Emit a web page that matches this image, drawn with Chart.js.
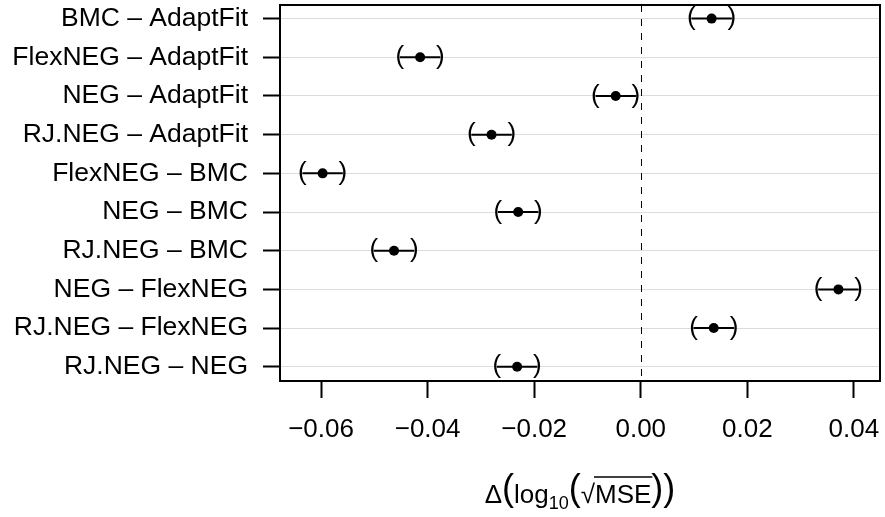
<!DOCTYPE html>
<html>
<head>
<meta charset="utf-8">
<script src="https://cdn.jsdelivr.net/npm/chart.js@4.4.0/dist/chart.umd.min.js"></script>
<style>
  html, body { margin: 0; padding: 0; background: #fff; }
  #wrap { width: 885px; height: 517px; }
</style>
</head>
<body>
<div id="wrap"><canvas id="ciChart" width="885" height="517"></canvas></div>
<script>
// Pairwise differences with their confidence limits
var pairs = ["BMC – AdaptFit", "FlexNEG – AdaptFit", "NEG – AdaptFit", "RJ.NEG – AdaptFit",
    "FlexNEG – BMC", "NEG – BMC", "RJ.NEG – BMC", "NEG – FlexNEG", "RJ.NEG – FlexNEG", "RJ.NEG – NEG"];
var estimates = [0.0133, -0.0414, -0.0047, -0.0280, -0.0597, -0.0230, -0.0463, 0.0371, 0.0137, -0.0232];
var lower = [0.0095, -0.0452, -0.0085, -0.0318, -0.0635, -0.0268, -0.0501, 0.0333, 0.0099, -0.0270];
var upper = [0.0171, -0.0376, -0.0009, -0.0242, -0.0559, -0.0192, -0.0425, 0.0409, 0.0175, -0.0194];
var rows = [1, 2, 3, 4, 5, 6, 7, 8, 9, 10];
var xTicks = [-0.06, -0.04, -0.02, 0, 0.02, 0.04];
var xTickLabels = ["−0.06", "−0.04", "−0.02", "0.00", "0.02", "0.04"];

var FONT = "'Liberation Sans', Arial, Helvetica, sans-serif";

// frame, zero line and the interval bars with "(" and ")" at the ends
var intervalPlugin = {
    id: "intervals",
    beforeDatasetsDraw: function (chart) {
        var ctx = chart.ctx, xs = chart.scales.x, ys = chart.scales.y, area = chart.chartArea;
        ctx.save();
        ctx.strokeStyle = "#000";
        ctx.fillStyle = "#000";

        var x0 = Math.round(xs.getPixelForValue(0)) + 0.5;
        ctx.lineWidth = 1;
        ctx.setLineDash([7, 7]);
        ctx.beginPath();
        ctx.moveTo(x0, area.top);
        ctx.lineTo(x0, area.bottom);
        ctx.stroke();
        ctx.setLineDash([]);

        ctx.lineWidth = 2;
        ctx.strokeRect(area.left, area.top, area.right - area.left, area.bottom - area.top);

        ctx.font = "26px " + FONT;
        ctx.textAlign = "center";
        ctx.textBaseline = "alphabetic";
        rows.forEach(function (r, i) {
            var y = ys.getPixelForValue(r);
            var xl = xs.getPixelForValue(lower[i]);
            var xu = xs.getPixelForValue(upper[i]);
            ctx.beginPath();
            ctx.moveTo(xl, y);
            ctx.lineTo(xu, y);
            ctx.stroke();
            ctx.fillText("(", xl, y + 6.7);
            ctx.fillText(")", xu, y + 6.7);
        });
        ctx.restore();
    },
    // axis title: Δ(log10(√MSE))
    afterDraw: function (chart) {
        var ctx = chart.ctx, area = chart.chartArea;
        var base = 503;
        var parts = [
            { t: "Δ", size: 26, dy: 0 },
            { t: "(", size: 36, dy: -2.7 },
            { t: "log", size: 26, dy: 0 },
            { t: "10", size: 18, dy: 6 },
            { t: "(", size: 36, dy: -2.7 },
            { t: "√", size: 26, dy: 0 },
            { t: "MSE", size: 26, dy: 0, over: true },
            { t: ")", size: 36, dy: -2.7 },
            { t: ")", size: 36, dy: -2.7 }
        ];
        ctx.save();
        ctx.fillStyle = "#000";
        ctx.strokeStyle = "#000";
        ctx.textAlign = "left";
        ctx.textBaseline = "alphabetic";
        var total = 0;
        parts.forEach(function (p) {
            ctx.font = p.size + "px " + FONT;
            p.w = ctx.measureText(p.t).width;
            total += p.w;
        });
        var x = (area.left + area.right) / 2 - total / 2;
        parts.forEach(function (p) {
            ctx.font = p.size + "px " + FONT;
            ctx.fillText(p.t, x, base + p.dy);
            if (p.over) {
                ctx.lineWidth = 1.5;
                ctx.beginPath();
                ctx.moveTo(x - 1, base - 26);
                ctx.lineTo(x + p.w + 1, base - 26);
                ctx.stroke();
            }
            x += p.w;
        });
        ctx.restore();
    }
};

new Chart("ciChart", {
    type: "scatter",
    data: {
        datasets: [{
            data: estimates.map(function (v, i) { return { x: v, y: rows[i] }; }),
            backgroundColor: "#000",
            borderWidth: 0,
            pointRadius: 5,
            pointHoverRadius: 5,
        }],
    },
    options: {
        responsive: false,
        animation: false,
        devicePixelRatio: 1,
        layout: {
            padding: { top: 3, right: 3, left: 0, bottom: 0 },
        },
        plugins: {
            legend: { display: false },
            tooltip: { enabled: false },
        },
        scales: {
            x: {
                type: "linear",
                min: -0.0677,
                max: 0.0449,
                afterBuildTicks: function (scale) {
                    scale.ticks = xTicks.map(function (v) { return { value: v }; });
                },
                afterFit: function (scale) {
                    scale.height = 136;
                    scale.paddingLeft = 0;
                    scale.paddingRight = 0;
                },
                border: { display: false },
                grid: {
                    drawOnChartArea: false,
                    tickLength: 17,
                    tickColor: "#000",
                    tickWidth: 2,
                },
                ticks: {
                    color: "#000",
                    font: { family: FONT, size: 26 },
                    padding: 16,
                    maxRotation: 0,
                    autoSkip: false,
                    callback: function (v, i) { return xTickLabels[i]; },
                },
            },
            y: {
                type: "linear",
                reverse: true,
                min: 0.648,
                max: 10.368,
                afterBuildTicks: function (scale) {
                    scale.ticks = rows.map(function (v) { return { value: v }; });
                },
                afterFit: function (scale) {
                    scale.width = 280;
                    scale.paddingTop = 0;
                    scale.paddingBottom = 0;
                },
                border: { display: false },
                grid: {
                    color: "#dcdcdc",
                    lineWidth: 1,
                    tickLength: 17,
                    tickColor: "#000",
                    tickWidth: 2,
                },
                ticks: {
                    color: "#000",
                    font: { family: FONT, size: 26.5 },
                    padding: 15,
                    autoSkip: false,
                    callback: function (v, i) { return pairs[i]; },
                },
            },
        },
    },
    plugins: [intervalPlugin],
});
</script>
</body>
</html>
